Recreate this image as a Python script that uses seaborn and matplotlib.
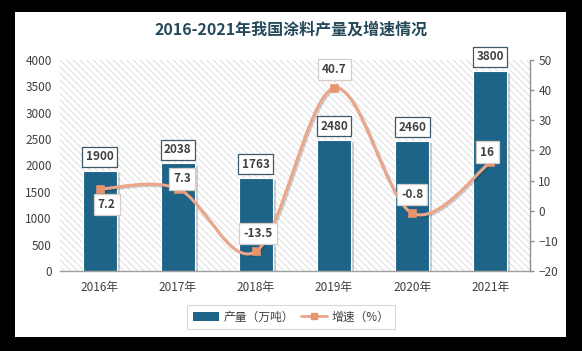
import numpy as np
import pandas as pd
import matplotlib
matplotlib.use("Agg")
import matplotlib.pyplot as plt
import seaborn as sns
from matplotlib.path import Path
from matplotlib.patches import PathPatch, Rectangle, Patch
from matplotlib.lines import Line2D
import matplotlib.patheffects as pe

years = ["2016年", "2017年", "2018年", "2019年", "2020年", "2021年"]
output = [1900, 2038, 1763, 2480, 2460, 3800]
growth = [7.2, 7.3, -13.5, 40.7, -0.8, 16]
growth_labels = ["7.2", "7.3", "-13.5", "40.7", "-0.8", "16"]
title = "2016-2021年我国涂料产量及增速情况"
bar_name = "产量（万吨）"
line_name = "增速（%）"

sns.set_theme(style="white")
plt.rcParams["font.family"] = ["Noto Sans CJK SC", "DejaVu Sans"]
plt.rcParams["hatch.linewidth"] = 0.6
plt.rcParams["hatch.color"] = "#d9d9d9"

BAR = "#1d6488"
LINE = "#eba588"
MARK = "#e8956f"
TXT = "#404040"

fig = plt.figure(figsize=(5.82, 3.51), dpi=100, facecolor="black")
fig.patches.append(Rectangle((15/582, 1-337/351), 551/582, 325/351,
                             transform=fig.transFigure, facecolor="white",
                             edgecolor="none", zorder=-5))
ax = fig.add_axes([60/582, 1-271/351, 470/582, 211/351])
ax.set_facecolor("none")
ax.add_patch(Rectangle((0, 0), 1, 1, transform=ax.transAxes, facecolor="white",
                       edgecolor="#d9d9d9", linewidth=0, hatch="\\\\\\\\\\", zorder=0))

df = pd.DataFrame({"year": years, "output": output, "growth": growth})
sns.barplot(data=df, x="year", y="output", color=BAR, width=0.44, saturation=1,
            edgecolor="white", linewidth=0.8, ax=ax, zorder=2)
for p in ax.patches:
    if not p.get_hatch():
        p.set_path_effects([pe.SimplePatchShadow(offset=(2, -1.5), alpha=0.2), pe.Normal()])

ax.set_ylim(0, 4000)
ax.set_yticks(range(0, 4001, 500))
ax.set_xlim(-0.51, 5.51)
ax.set_xlabel("")
ax.set_ylabel("")
for s in ["left", "top", "right"]:
    ax.spines[s].set_visible(False)
ax.spines["bottom"].set_color("#a0a0a0")
ax.spines["bottom"].set_linewidth(1)
ax.tick_params(axis="y", length=0, pad=6, labelsize=8.5, labelcolor=TXT)
ax.tick_params(axis="x", length=0, pad=7, labelsize=8.5, labelcolor=TXT)

for i, v in enumerate(output):
    ax.annotate(str(v), (i, v), xytext=(0, 10), textcoords="offset points",
                ha="center", va="center", fontsize=8.5, fontweight="bold", color=TXT,
                bbox=dict(boxstyle="square,pad=0.3", fc="white", ec="#3d5866", lw=0.9),
                zorder=6)

ax2 = ax.twinx()
ax2.set_ylim(-20, 50)
ax2.set_yticks(range(-20, 51, 10))
xs = np.arange(len(years), dtype=float)
ys = np.array(growth, dtype=float)
verts = [(xs[0], ys[0])]
codes = [Path.MOVETO]
n = len(xs)
for i in range(n - 1):
    p0 = np.array([xs[max(i-1, 0)], ys[max(i-1, 0)]])
    p1 = np.array([xs[i], ys[i]])
    p2 = np.array([xs[i+1], ys[i+1]])
    p3 = np.array([xs[min(i+2, n-1)], ys[min(i+2, n-1)]])
    c1 = p1 + (p2 - p0) / 6
    c2 = p2 - (p3 - p1) / 6
    verts += [tuple(c1), tuple(c2), tuple(p2)]
    codes += [Path.CURVE4] * 3
ax2.add_patch(PathPatch(Path(verts, codes), facecolor="none", edgecolor=LINE, lw=2.2,
                        zorder=3,
                        path_effects=[pe.SimpleLineShadow(offset=(1, -1), alpha=0.2), pe.Normal()]))
sns.scatterplot(x=xs, y=ys, marker="s", s=30, color=MARK, edgecolor=MARK, ax=ax2, zorder=4)
ax2.set_xlim(-0.51, 5.51)

for s in ["left", "top", "bottom"]:
    ax2.spines[s].set_visible(False)
ax2.spines["right"].set_color("#909090")
ax2.spines["right"].set_linewidth(1)
ax2.tick_params(axis="y", length=3, width=1, color="#909090", pad=3, labelsize=8.5,
                labelcolor=TXT, right=True)

offs = [(5, -11), (3, 7), (1.5, 13), (0, 13.5), (0, 13.5), (-2, 7.5)]
for i, (v, lab) in enumerate(zip(growth, growth_labels)):
    ax2.annotate(lab, (i, v), xytext=offs[i], textcoords="offset points",
                 ha="center", va="center", fontsize=8.5, fontweight="bold", color=TXT,
                 bbox=dict(boxstyle="square,pad=0.35", fc="white", ec="#d8cdc6", lw=0.9),
                 zorder=6)

fig.text(0.5, 1-30/351, title, ha="center", va="center", fontsize=11.5,
         fontweight="bold", color="#24495a")

handles = [Patch(facecolor=BAR, edgecolor="none"),
           Line2D([0], [0], color=LINE, lw=2, marker="s", markersize=5,
                  markerfacecolor=MARK, markeredgecolor=MARK)]
leg = fig.legend(handles, [bar_name, line_name], loc="center",
                 bbox_to_anchor=(291/582, 1-317/351), ncol=2, frameon=True,
                 fancybox=False, fontsize=8.5, handlelength=2.2, handletextpad=0.4,
                 columnspacing=0.6, borderpad=0.5)
leg.get_frame().set_edgecolor("#d0d0d0")
leg.get_frame().set_linewidth(0.8)
for t in leg.get_texts():
    t.set_color(TXT)

fig.savefig("out.png", dpi=100, facecolor="black")
